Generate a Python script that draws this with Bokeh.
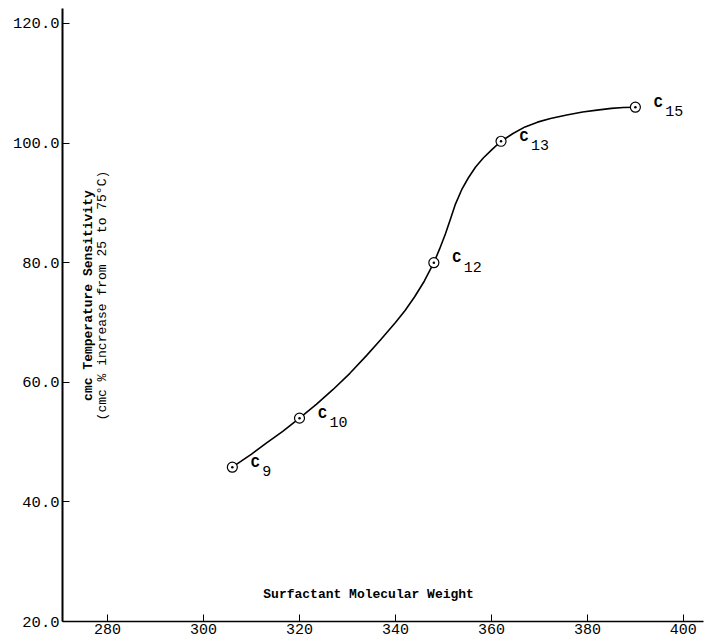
from bokeh.plotting import figure
from bokeh.models import Range1d, Label, LabelSet, ColumnDataSource, FixedTicker, NumeralTickFormatter
from bokeh.core.properties import value
from bokeh.embed import file_html
from bokeh.resources import INLINE
import math

# Data
mol_weight = [306, 320, 348, 362, 390]
sensitivity = [45.8, 54.0, 80.0, 100.3, 106.0]
carbon = ["C", "C", "C", "C", "C"]
chain = ["9", "10", "12", "13", "15"]

# Smooth hand-drawn curve
curve_x = [306, 310, 313, 316.5, 320, 323.5, 327, 330.5, 334, 337, 340, 342, 344, 346, 348,
           349.2, 350.4, 351.5, 352.5, 353.8, 355.2, 356.7, 358.3, 360.1, 362, 364.5, 367,
           369.6, 372.3, 375.7, 379, 382, 385, 387.5, 390]
curve_y = [45.8, 48.0, 49.8, 51.8, 54.0, 56.3, 58.8, 61.5, 64.5, 67.2, 70.0, 72.0, 74.3, 76.9, 80.0,
           82.3, 84.8, 87.4, 89.8, 92.2, 94.2, 96.0, 97.5, 98.9, 100.3, 101.6, 102.7,
           103.5, 104.1, 104.7, 105.2, 105.5, 105.8, 105.95, 106.0]

x_ticks = [280, 300, 320, 340, 360, 380, 400]
y_ticks = [20, 40, 60, 80, 100, 120]

FONT = "Liberation Mono"

p = figure(width=709, height=643, output_backend="svg", toolbar_location=None,
           x_range=Range1d(270.6, 404.2), y_range=Range1d(20, 122.5),
           min_border_left=62, min_border_right=6, min_border_top=8, min_border_bottom=22)
p.outline_line_color = None
p.xgrid.grid_line_color = None
p.ygrid.grid_line_color = None
p.background_fill_color = "white"
p.border_fill_color = "white"

for ax in (p.xaxis[0], p.yaxis[0]):
    ax.major_tick_in = 7
    ax.major_tick_out = 0
    ax.minor_tick_in = 0
    ax.minor_tick_out = 0
    ax.axis_line_color = "black"
    ax.major_tick_line_color = "black"
    ax.major_label_text_font = FONT
    ax.major_label_text_font_size = "15.5px"
    ax.major_label_text_color = "black"
    ax.major_label_standoff = 3

p.xaxis[0].ticker = FixedTicker(ticks=x_ticks)
p.xaxis[0].major_label_text_font_size = "15px"
p.xaxis[0].major_label_standoff = 2
p.yaxis[0].ticker = FixedTicker(ticks=y_ticks)
p.yaxis[0].formatter = NumeralTickFormatter(format="0.0")
p.yaxis[0].axis_line_width = 2
p.xaxis[0].axis_line_width = 1.5

p.line(curve_x, curve_y, line_color="black", line_width=1.6, line_join="round")

src = ColumnDataSource(dict(x=mol_weight, y=sensitivity, c=carbon, n=chain))
p.scatter("x", "y", source=src, marker="circle_dot", size=10, line_color="black",
          line_width=1.2, fill_color="white")

p.add_layout(LabelSet(x="x", y="y", text="c", source=src, x_offset=23, y_offset=4,
                      text_align="center", text_baseline="middle", text_font=value(FONT),
                      text_font_size=value("15px"), text_font_style=value("bold"), text_color=value("black")))
p.add_layout(LabelSet(x="x", y="y", text="n", source=src, x_offset=30, y_offset=-4,
                      text_align="left", text_baseline="middle", text_font=value(FONT),
                      text_font_size=value("15px"), text_color=value("black")))

p.add_layout(Label(x=334.4, y=24.5, text="Surfactant Molecular Weight", text_align="center",
                   text_baseline="middle", text_font=FONT, text_font_size="13px",
                   text_font_style="bold", text_color="black"))
p.add_layout(Label(x=276.0, y=74.5, text="cmc Temperature Sensitivity", angle=math.pi / 2,
                   text_align="center", text_baseline="middle", text_font=FONT,
                   text_font_size="13px", text_font_style="bold", text_color="black"))
p.add_layout(Label(x=279.0, y=74.5, text="(cmc % increase from 25 to 75\u00b0C)", angle=math.pi / 2,
                   text_align="center", text_baseline="middle", text_font=FONT,
                   text_font_size="13px", text_color="black"))

open("out.html", "w").write(file_html(p, INLINE))
